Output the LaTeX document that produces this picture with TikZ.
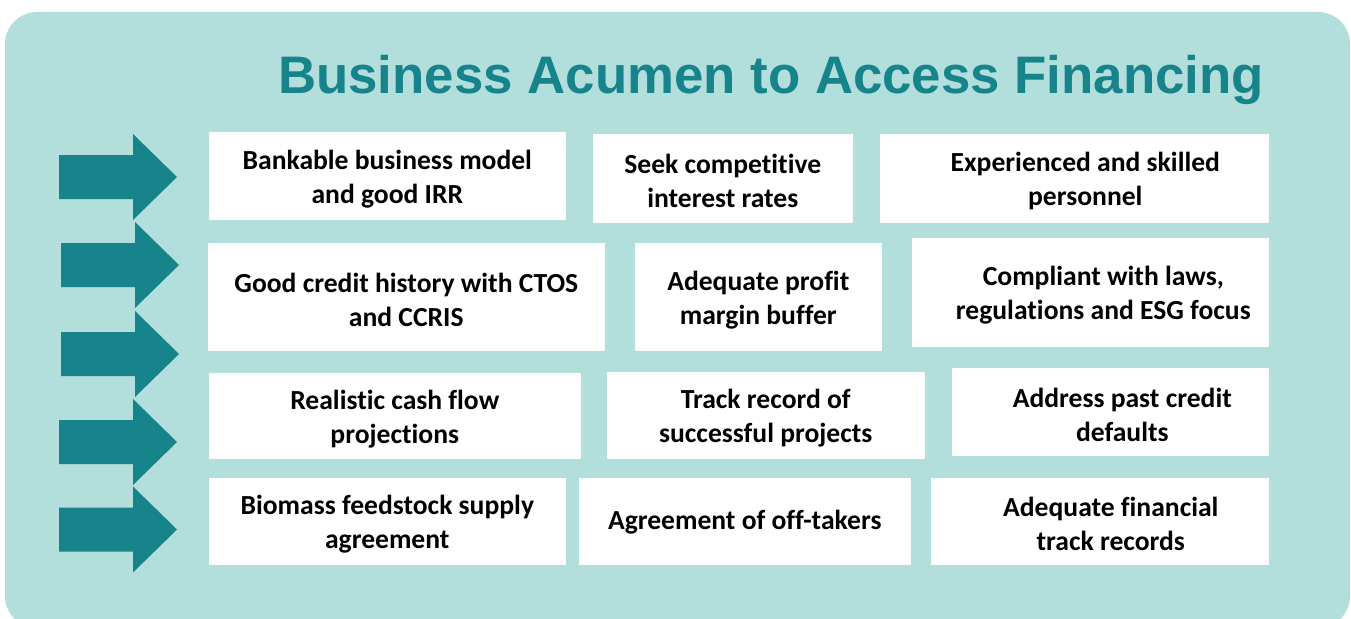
\documentclass[tikz,border=0pt]{standalone}
\usepackage{fontspec}
\setmainfont{Carlito}[Ligatures=NoCommon]
\newfontfamily\titlefont{Liberation Sans}
\definecolor{bgteal}{HTML}{B2DFDB}
\definecolor{darkteal}{HTML}{17838A}
\begin{document}
\begin{tikzpicture}[x=1pt,y=-1pt,
  box/.style={fill=white, draw=white!95!bgteal, line width=0.6pt, inner sep=0pt, anchor=north west},
  lbl/.style={align=center, inner sep=0pt, font=\fontsize{27.6}{34}\selectfont\bfseries, text=black},
  arrowshape/.style={fill=darkteal}]
\useasboundingbox (0,0) rectangle (1351,618);
\clip (0,0) rectangle (1351,618);
% background panel
\fill[bgteal, rounded corners=32pt] (5,12) rectangle (1350,628);
% title
\node[anchor=base west, inner sep=0pt, text=darkteal, font=\titlefont\bfseries\fontsize{52.8}{60}\selectfont] (title) at (278,93) {Business Acumen to Access Financing};
% arrows
\foreach \ax/\ay in {59/177, 61/265, 61/354, 59/442, 59/529.5}{
  \fill[arrowshape] (\ax,\ay-22) -- (\ax+74,\ay-22) -- (\ax+74,\ay-43) -- (\ax+118,\ay)
    -- (\ax+74,\ay+43) -- (\ax+74,\ay+22) -- (\ax,\ay+22) -- cycle;
}
% row 1
\node[box, minimum width=356pt, minimum height=87pt] (b11) at (209,132) {};
\node[box, minimum width=259pt, minimum height=88pt] (b12) at (593,134) {};
\node[box, minimum width=388pt, minimum height=88pt] (b13) at (880,134) {};
% row 2
\node[box, minimum width=396pt, minimum height=107pt] (b21) at (208,243) {};
\node[box, minimum width=246pt, minimum height=107pt] (b22) at (635,243) {};
\node[box, minimum width=356pt, minimum height=108pt] (b23) at (912,238) {};
% row 3
\node[box, minimum width=371pt, minimum height=85pt] (b31) at (209,373) {};
\node[box, minimum width=317pt, minimum height=86pt] (b32) at (607,372) {};
\node[box, minimum width=316pt, minimum height=87pt] (b33) at (952,368) {};
% row 4
\node[box, minimum width=356pt, minimum height=86pt] (b41) at (209,478) {};
\node[box, minimum width=331pt, minimum height=86pt] (b42) at (579,478) {};
\node[box, minimum width=337pt, minimum height=86pt] (b43) at (931,478) {};
% labels
\node[lbl] (t11) at ([yshift=-3pt]b11.center) {Bankable business model\\and good IRR};
\node[lbl] (t12) at ([yshift=-3pt]b12.center) {Seek competitive\\interest rates};
\node[lbl] (t13) at ([xshift=11pt,yshift=-3pt]b13.center) {Experienced and skilled\\personnel};
\node[lbl] (t21) at ([yshift=-3pt]b21.center) {Good credit history with CTOS\\and CCRIS};
\node[lbl] (t22) at ([yshift=-3pt]b22.center) {Adequate profit\\margin buffer};
\node[lbl] (t23) at ([xshift=13pt,yshift=-3pt]b23.center) {Compliant with laws,\\regulations and ESG focus};
\node[lbl] (t31) at ([yshift=-3pt]b31.center) {Realistic cash flow\\projections};
\node[lbl] (t32) at ([yshift=-3pt]b32.center) {Track record of\\successful projects};
\node[lbl] (t33) at ([xshift=12pt,yshift=-3pt]b33.center) {Address past credit\\defaults};
\node[lbl] (t41) at ([yshift=-3pt]b41.center) {Biomass feedstock supply\\agreement};
\node[lbl] (t42) at ([yshift=-1pt]b42.center) {Agreement of off-takers};
\node[lbl] (t43) at ([xshift=11pt,yshift=-3pt]b43.center) {Adequate financial\\track records};
\end{tikzpicture}
\end{document}
